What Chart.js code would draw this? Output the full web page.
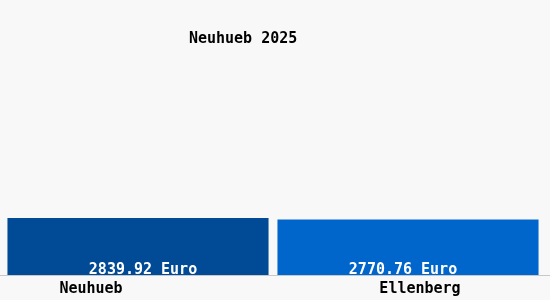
<!DOCTYPE html>
<html lang="de">
<head>
    <meta charset="UTF-8">
    <title>Neuhueb 2025</title>
    <script src="https://cdn.jsdelivr.net/npm/chart.js"></script>
    <style>
        html, body { margin: 0; padding: 0; background: #f8f8f8; }
        .chart-box { width: 550px; height: 300px; position: relative; }
    </style>
</head>
<body>
    <div class="chart-box">
        <canvas id="grafica"></canvas>
    </div>
    <script>
        // --- Daten ---
        const titel = 'Neuhueb 2025';
        const orte = ['Neuhueb', 'Ellenberg'];
        const werte = [2839.92, 2770.76];
        const einheit = 'Euro';
        const farben = ['#004a96', '#0066cc'];

        const schrift = 'bold 15px "DejaVu Sans Mono", "Liberation Mono", monospace';
        // Verschiebung der Texte gegenüber der Balkenmitte
        const labelVersatz = [-47, 12];
        const wertVersatz = [5, -5];

        const beschriftung = {
            id: 'beschriftung',
            beforeDraw(chart) {
                const { ctx } = chart;
                ctx.save();
                ctx.fillStyle = '#f8f8f8';
                ctx.fillRect(0, 0, chart.width, chart.height);
                ctx.restore();
            },
            afterDatasetsDraw(chart) {
                const { ctx, chartArea } = chart;
                const meta = chart.getDatasetMeta(0);
                ctx.save();
                ctx.font = schrift;
                ctx.textAlign = 'center';
                ctx.textBaseline = 'alphabetic';

                // Werte in den Balken
                ctx.fillStyle = '#ffffff';
                meta.data.forEach((bar, i) => {
                    ctx.fillText(werte[i].toFixed(2) + ' ' + einheit, bar.x + wertVersatz[i], chartArea.bottom - 1);
                });

                // Achsenlinie
                ctx.strokeStyle = '#c8c8c8';
                ctx.lineWidth = 1;
                ctx.beginPath();
                ctx.moveTo(0, chartArea.bottom + 0.5);
                ctx.lineTo(chart.width, chartArea.bottom + 0.5);
                ctx.stroke();

                // Ortsnamen
                ctx.fillStyle = '#000000';
                meta.data.forEach((bar, i) => {
                    ctx.fillText(orte[i], bar.x + labelVersatz[i], chartArea.bottom + 18);
                });

                // Titel
                ctx.fillText(titel, chart.width * 0.442, 43);
                ctx.restore();
            }
        };

        document.addEventListener('DOMContentLoaded', function () {
            const ctx = document.getElementById('grafica').getContext('2d');
            new Chart(ctx, {
                type: 'bar',
                data: {
                    labels: orte,
                    datasets: [{
                        data: werte,
                        backgroundColor: farben,
                        categoryPercentage: 1,
                        barPercentage: 0.967
                    }]
                },
                options: {
                    responsive: true,
                    maintainAspectRatio: false,
                    animation: false,
                    layout: { padding: { left: 3, right: 7, top: 0, bottom: 25 } },
                    plugins: {
                        legend: { display: false },
                        title: { display: false },
                        tooltip: { enabled: false }
                    },
                    scales: {
                        x: {
                            display: false,
                            grid: { display: false }
                        },
                        y: {
                            display: false,
                            min: 0,
                            max: 13700
                        }
                    }
                },
                plugins: [beschriftung]
            });
        });
    </script>
</body>
</html>
